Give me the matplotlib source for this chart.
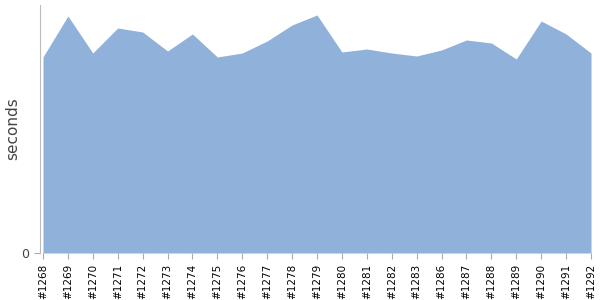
import matplotlib
matplotlib.use("Agg")
import matplotlib.pyplot as plt

builds = ["#1268", "#1269", "#1270", "#1271", "#1272", "#1273", "#1274", "#1275",
          "#1276", "#1277", "#1278", "#1279", "#1280", "#1281", "#1282", "#1283",
          "#1286", "#1287", "#1288", "#1289", "#1290", "#1291", "#1292"]
seconds = [196, 237, 200, 225, 221, 202, 219, 196, 200, 212, 228, 238, 201,
           204, 200, 197, 203, 213, 210, 194, 232, 219, 200]

fig = plt.figure(figsize=(6, 3), dpi=100)
ax = fig.add_axes([40 / 600, 47 / 300, 551 / 600, 248 / 300])

x = list(range(len(builds)))
ax.fill_between(x, seconds, 0, color="#8fb1da", linewidth=0)

ax.set_xlim(-0.12, len(builds) - 1)
ax.set_ylim(0, 248)
ax.set_xticks(x)
ax.set_xticklabels(builds, rotation=90, fontsize=7.5)
ax.set_yticks([0])
ax.set_yticklabels(["0"], fontsize=9)
ax.set_ylabel("seconds", fontsize=11, color="#444444", va="center")
ax.yaxis.set_label_coords(-27 / 551, 0.5)

for side in ["top", "right", "bottom"]:
    ax.spines[side].set_visible(False)
ax.spines["left"].set_color("#bbbbbb")
ax.tick_params(axis="both", colors="#aaaaaa", length=4, width=0.8)
for lbl in ax.get_xticklabels():
    lbl.set_color("black")
for lbl in ax.get_yticklabels():
    lbl.set_color("#444444")

fig.savefig("out.png", dpi=100)
